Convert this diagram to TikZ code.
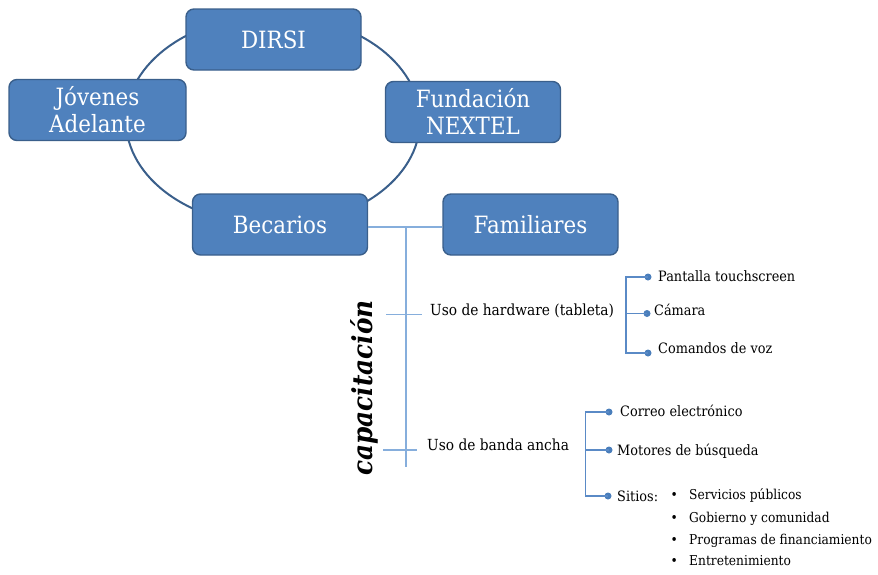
\documentclass[tikz,border=0pt]{standalone}
\usepackage{fontspec}
\setmainfont{DejaVu Serif}[FakeStretch=0.9]
\definecolor{boxfill}{HTML}{4F81BD}
\definecolor{boxline}{HTML}{3A5F8B}
\definecolor{treeline}{HTML}{86AEDC}
\definecolor{brline}{HTML}{5A8AC6}
\definecolor{dotc}{HTML}{4A7EBB}
\begin{document}
\begin{tikzpicture}[x=1pt,y=-1pt,
  box/.style={draw=boxline, line width=1.4pt, fill=boxfill, rounded corners=8pt,
    text=white, font=\fontsize{23.8}{27}\selectfont, align=center, inner sep=0pt,
    minimum width=175pt, minimum height=61pt},
  ring/.style={draw=boxline, line width=2pt},
  tree/.style={draw=treeline, line width=1.1pt},
  br/.style={draw=brline, line width=1.1pt},
  dotn/.style={circle, fill=dotc, inner sep=0pt, minimum size=7pt},
  midtxt/.style={anchor=base west, inner sep=0pt, font=\fontsize{15.3}{20}\selectfont},
  leaf/.style={anchor=base west, inner sep=0pt, font=\fontsize{14.3}{18}\selectfont},
  bul/.style={anchor=base west, inner sep=0pt, font=\fontsize{13.6}{18}\selectfont}]
\useasboundingbox (0,0) rectangle (878,574);
% ring
\draw[ring] (273,120.5) ellipse [x radius=147pt, y radius=105pt];
% boxes
\node[box] (dirsi) at (273.5,39.5) {DIRSI};
\node[box, minimum width=177pt] (jov) at (97.5,110) {Jóvenes\\Adelante};
\node[box] (fund) at (473,112) {Fundación\\NEXTEL};
\node[box] (bec) at (280,224.5) {Becarios};
\node[box] (fam) at (530.5,224.5) {Familiares};
% trunk
\draw[tree] ([yshift=-2.5pt]bec.east) -- ([yshift=-2.5pt]fam.west);
\coordinate (ttop) at (406,227);
\coordinate (tbot) at (406,467);
\draw[tree] (ttop) -- (tbot);
\coordinate (t1a) at (386,314.5);
\coordinate (t1b) at (422,314.5);
\coordinate (t2a) at (383,450);
\coordinate (t2b) at (417,450);
\draw[tree] (t1a) -- (t1b);
\draw[tree] (t2a) -- (t2b);
\node[rotate=90, inner sep=0pt, font=\bfseries\itshape\fontsize{27.5}{31}\selectfont] (cap) at (364,388) {capacitación};
\node[midtxt] (hw) at (430,315) {Uso de hardware (tableta)};
\node[midtxt] (ba) at (427,450) {Uso de banda ancha};
% hardware bracket
\coordinate (hv1) at (626,277);
\coordinate (hv2) at (626,313.5);
\coordinate (hv3) at (626,353);
\node[dotn] (hd1) at (648,277) {};
\node[dotn] (hd2) at (647,313.5) {};
\node[dotn] (hd3) at (648,353) {};
\draw[br] (hd1.center) -- (hv1) -- (hv3) -- (hd3.center);
\draw[br] (hv2) -- (hd2.center);
\node[leaf] (l1) at (658,281) {Pantalla touchscreen};
\node[leaf] (l2) at (654,315.5) {Cámara};
\node[leaf] (l3) at (658,353) {Comandos de voz};
% banda bracket
\coordinate (bv1) at (585.5,412);
\coordinate (bv2) at (585.5,450);
\coordinate (bv3) at (585.5,496);
\node[dotn] (bd1) at (609,412) {};
\node[dotn] (bd2) at (609,450) {};
\node[dotn] (bd3) at (608,496) {};
\draw[br] (bd1.center) -- (bv1) -- (bv3) -- (bd3.center);
\draw[br] (bv2) -- (bd2.center);
\node[leaf] (m1) at (620,416) {Correo electrónico};
\node[leaf] (m2) at (617,455) {Motores de búsqueda};
\node[leaf] (m3) at (617,501.5) {Sitios:};
% bullets
\node[bul] (s1) at (670.5,499.5) {\makebox[18.5pt][l]{•}Servicios públicos};
\node[bul] (s2) at (670.5,522) {\makebox[18.5pt][l]{•}Gobierno y comunidad};
\node[bul] (s3) at (670.5,544.5) {\makebox[18.5pt][l]{•}Programas de financiamiento};
\node[bul] (s4) at (670.5,565) {\makebox[18.5pt][l]{•}Entretenimiento};
\end{tikzpicture}
\end{document}
